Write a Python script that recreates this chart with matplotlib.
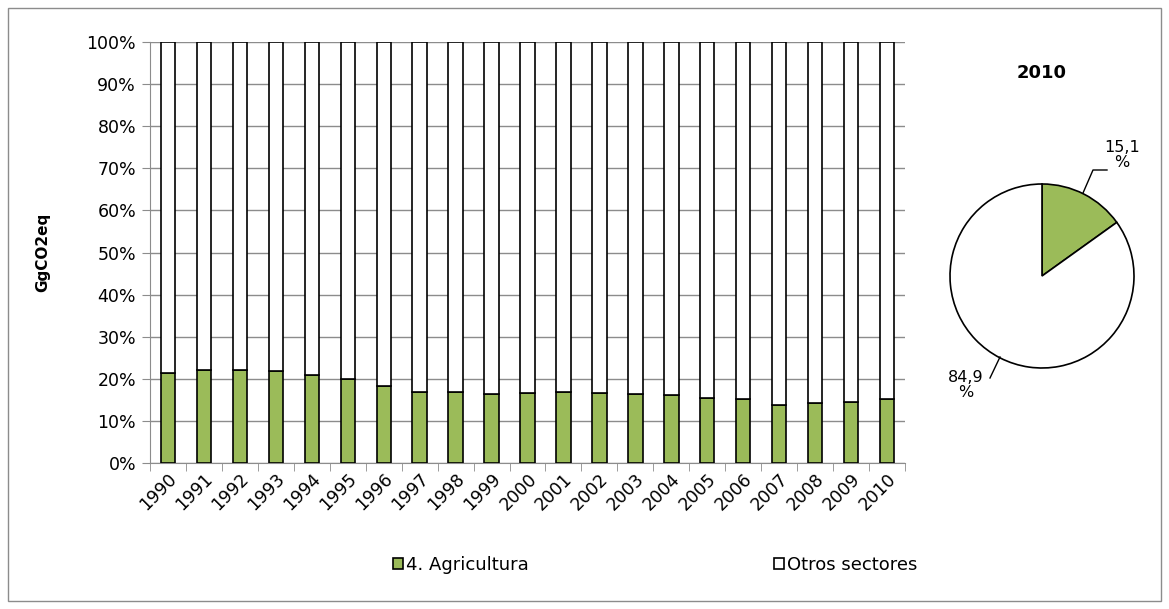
import numpy as np
import matplotlib
matplotlib.use("Agg")
from matplotlib import pyplot as plt
from matplotlib.patches import Rectangle
from matplotlib.ticker import FuncFormatter

years = [str(y) for y in range(1990, 2011)]
agricultura = [21.4, 22.2, 22.0, 21.8, 20.8, 20.0, 18.4, 16.9, 16.9, 16.3, 16.7,
               16.9, 16.6, 16.4, 16.1, 15.4, 15.2, 13.8, 14.2, 14.5, 15.1]
otros = [100 - v for v in agricultura]
series_names = ["4. Agricultura", "Otros sectores"]
pie_values = [15.1, 84.9]
pie_labels = ["15,1\n%", "84,9\n%"]
pie_title = "2010"

green = "#9bbb59"
grid_grey = "#8c8c8c"

plt.rcParams["font.family"] = ["DejaVu Sans"]
fig = plt.figure(figsize=(11.69, 6.09), dpi=100)
W, H = 1169, 609

# outer frame
fig.patches.append(Rectangle((8 / W, 8 / H), (1161 - 8) / W, (601 - 8) / H,
                             transform=fig.transFigure, fill=False,
                             edgecolor="#8c8c8c", linewidth=1))

# bar chart
ax = fig.add_axes([150 / W, 1 - 463 / H, (905 - 150) / W, (463 - 42) / H])
x = np.arange(len(years))
b1 = ax.bar(x, agricultura, width=0.4, color=green, edgecolor="black", linewidth=1.2, zorder=3)
b2 = ax.bar(x, otros, width=0.4, bottom=agricultura, color="white", edgecolor="black",
            linewidth=1.2, zorder=3)
ax.set_xlim(-0.5, len(years) - 0.5)
ax.set_ylim(0, 100)
ax.set_yticks(np.arange(0, 101, 10))
ax.yaxis.set_major_formatter(FuncFormatter(lambda v, p: f"{int(v)}%"))
ax.yaxis.grid(True, color=grid_grey, linewidth=1, zorder=0)
ax.set_xticks(x)
ax.set_xticklabels(years, rotation=45, ha="right", rotation_mode="anchor", fontsize=12.5)
ax.set_xticks(np.arange(-0.5, len(years)), minor=True)
ax.tick_params(axis="x", which="major", length=0, pad=5)
ax.tick_params(axis="x", which="minor", length=6, color=grid_grey, direction="out")
ax.tick_params(axis="y", length=6, color=grid_grey, labelsize=12.5, pad=4)
for side in ["top", "right"]:
    ax.spines[side].set_visible(False)
for side in ["left", "bottom"]:
    ax.spines[side].set_color(grid_grey)
ax.set_ylabel("GgCO2eq", fontweight="bold", fontsize=11, labelpad=26)

# legend
fig.legend([b1, b2], series_names, loc="center", bbox_to_anchor=(655 / W, 1 - 565 / H),
           ncol=2, frameon=False, fontsize=13, handlelength=0.55, handleheight=0.55,
           handletextpad=0.15, columnspacing=13.6)

# pie chart
pr = 92
pax = fig.add_axes([(1042 - pr) / W, 1 - (276 + pr) / H, 2 * pr / W, 2 * pr / H])
wedges, _ = pax.pie(pie_values, colors=[green, "white"], startangle=90, counterclock=False,
                    wedgeprops=dict(edgecolor="black", linewidth=1.2))
pax.set_xlim(-1, 1)
pax.set_ylim(-1, 1)
pax.set_aspect("equal")
fig.text(1042 / W, 1 - 73 / H, pie_title, fontweight="bold", fontsize=13, ha="center", va="center")

# pie labels with leader lines
fig.text(1122 / W, 1 - 155 / H, pie_labels[0], ha="center", va="center", fontsize=11.5,
         linespacing=1.0)
fig.add_artist(plt.Line2D([1083 / W, 1093 / W, 1107 / W], [1 - 193 / H, 1 - 170 / H, 1 - 170 / H],
                          transform=fig.transFigure, color="black", linewidth=1))
fig.text(966 / W, 1 - 385 / H, pie_labels[1], ha="center", va="center", fontsize=11.5,
         linespacing=1.0)
fig.add_artist(plt.Line2D([1000 / W, 990 / W], [1 - 357 / H, 1 - 378 / H],
                          transform=fig.transFigure, color="black", linewidth=1))

fig.savefig("out.png", dpi=100)
